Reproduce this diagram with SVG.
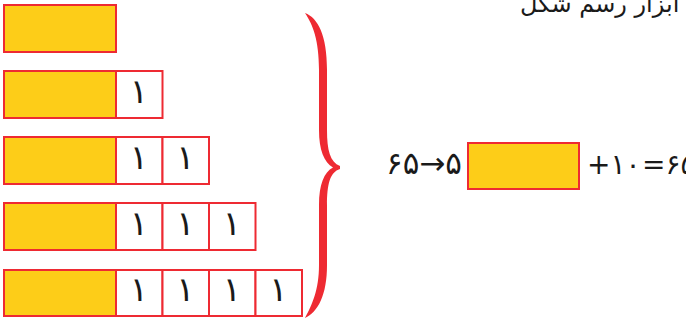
<svg xmlns="http://www.w3.org/2000/svg" width="686" height="320" viewBox="0 0 686 320">
  <style>
    .y { fill: #fdcd18; stroke: #ee2a32; stroke-width: 2; }
    .w { fill: #ffffff; stroke: #ee2a32; stroke-width: 2; }
    .d { font-family: "DejaVu Sans", sans-serif; font-size: 34px; fill: #1a1a1a; text-anchor: middle; }
    .eq { font-family: "DejaVu Sans", sans-serif; font-size: 31px; fill: #1a1a1a; }
    .eq2 { font-family: "DejaVu Sans", sans-serif; font-size: 28px; fill: #1a1a1a; }
    .hd { font-family: "DejaVu Sans", sans-serif; font-size: 24px; fill: #1a1a1a; }
  </style>
  <rect width="686" height="320" fill="#ffffff"/>
  <text class="hd" x="520" y="12">با ابزار رسم شکل</text>

  <g id="row1">
    <rect class="y" x="4" y="5" width="112" height="47"/>
  </g>
  <g id="row2">
    <rect class="y" x="4" y="71" width="112" height="47"/>
    <rect class="w" x="116" y="71" width="46.5" height="47"/>
    <text class="d" x="139" y="103">۱</text>
  </g>
  <g id="row3">
    <rect class="y" x="4" y="137" width="112" height="47"/>
    <rect class="w" x="116" y="137" width="46.5" height="47"/>
    <rect class="w" x="162.5" y="137" width="46.5" height="47"/>
    <text class="d" x="139" y="169">۱</text>
    <text class="d" x="185.5" y="169">۱</text>
  </g>
  <g id="row4">
    <rect class="y" x="4" y="203" width="112" height="47"/>
    <rect class="w" x="116" y="203" width="46.5" height="47"/>
    <rect class="w" x="162.5" y="203" width="46.5" height="47"/>
    <rect class="w" x="209" y="203" width="46.5" height="47"/>
    <text class="d" x="139" y="235">۱</text>
    <text class="d" x="185.5" y="235">۱</text>
    <text class="d" x="232" y="235">۱</text>
  </g>
  <g id="row5">
    <rect class="y" x="4" y="270" width="112" height="46"/>
    <rect class="w" x="116" y="270" width="46.5" height="46"/>
    <rect class="w" x="162.5" y="270" width="46.5" height="46"/>
    <rect class="w" x="209" y="270" width="46.5" height="46"/>
    <rect class="w" x="255.5" y="270" width="46.5" height="46"/>
    <text class="d" x="139" y="301">۱</text>
    <text class="d" x="185.5" y="301">۱</text>
    <text class="d" x="232" y="301">۱</text>
    <text class="d" x="278.5" y="301">۱</text>
  </g>

  <g id="brace">
    <path fill="#ee2a32" d="M305,13 C318,18 327,35 327,70 L327,130 C327,150 330,162 340,166 L340,169 C330,172 327,184 327,205 L327,265 C327,295 318,312 305,318 C312,305 319,290 319,265 L319,205 C319,185 324,172 333,167.5 C324,162 319,150 319,130 L319,70 C319,40 313,25 305,13 Z"/>
  </g>

  <g id="equation">
    <text class="eq" x="386" y="174">۶۵→۵</text>
    <rect class="y" x="468" y="143" width="111" height="46"/>
    <text class="eq2" x="587" y="174">+۱۰</text>
    <text class="eq2" x="642" y="174">=۶۵</text>
  </g>
</svg>
